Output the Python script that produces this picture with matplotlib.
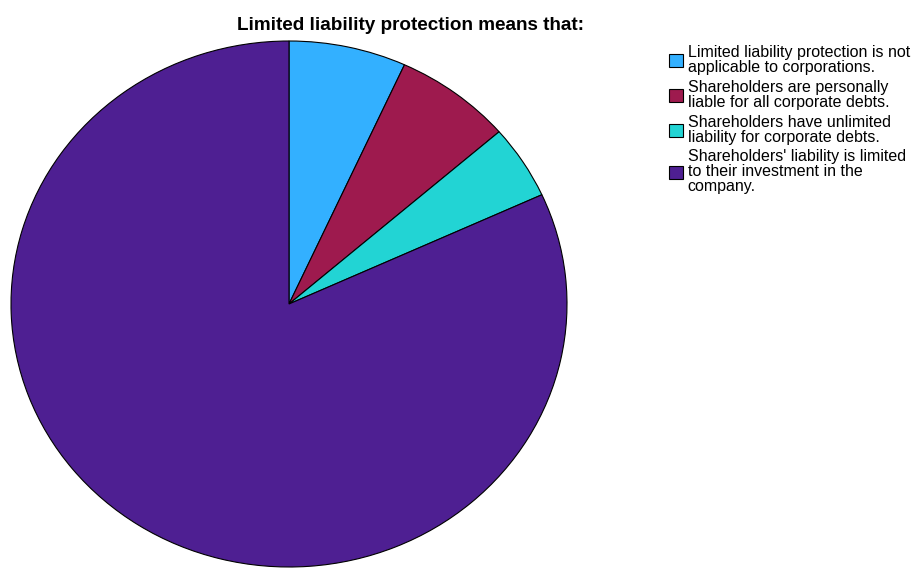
import matplotlib.pyplot as plt
from matplotlib.patches import Patch

plt.rcParams['font.family'] = ['Liberation Sans', 'DejaVu Sans']

# Dados
labels = [
    'Limited liability protection is not\napplicable to corporations.',
    'Shareholders are personally\nliable for all corporate debts.',
    'Shareholders have unlimited\nliability for corporate debts.',
    "Shareholders' liability is limited\nto their investment in the\ncompany.",
]
counts = [3, 3, 2, 36]
colors = ['#33B0FF', '#9E1A4E', '#22D4D4', '#4E1F92']

fig = plt.figure(figsize=(9.12, 5.68), dpi=100)
W, H = 912, 568
ax = fig.add_axes([11 / W, 1 / H, 556 / W, 526 / H])
ax.pie(counts, colors=colors, startangle=90, counterclock=False,
       wedgeprops={'edgecolor': 'black', 'linewidth': 0.8})
ax.set_aspect('auto')
ax.set_xlim(-1, 1)
ax.set_ylim(-1, 1)

fig.text(411 / W, 1 - 25 / H, 'Limited liability protection means that:',
         ha='center', va='center', fontsize=13.6, fontweight='bold')

handles = [Patch(facecolor=c, edgecolor='black', linewidth=0.8) for c in colors]
leg = fig.legend(handles, labels, loc='upper left', bbox_to_anchor=(669 / W, 1 - 45 / H),
                 frameon=False, fontsize=11.5, handlelength=0.875, handleheight=0.875,
                 handletextpad=0.3, labelspacing=0.3, borderaxespad=0, borderpad=0)
for t in leg.get_texts():
    t.set_linespacing(1.0)

fig.savefig('out.png', dpi=100)
